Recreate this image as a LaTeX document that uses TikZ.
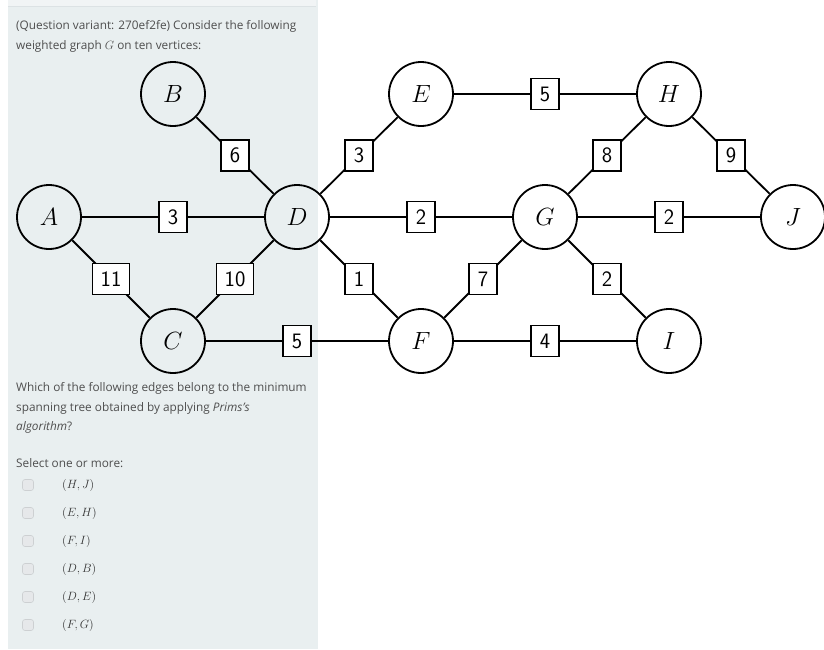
\documentclass[tikz,border=0pt]{standalone}
\usepackage{fontspec}
\setmainfont{Open Sans}
\begin{document}
\begin{tikzpicture}[x=1pt,y=-1pt,
  vtx/.style={circle,draw,line width=1.8pt,minimum size=64pt,inner sep=0pt,font=\fontsize{23}{23}\selectfont},
  wt/.style={rectangle,draw,fill=white,line width=1.5pt,minimum height=31pt,minimum width=28pt,inner xsep=8pt,inner ysep=0pt,font=\fontsize{22}{22}\selectfont\sffamily},
  edge/.style={line width=1.8pt},
  txt/.style={anchor=base west,inner sep=0pt,text=textgrey,font=\fontsize{11.8}{14}\selectfont},
  cbox/.style={rectangle,rounded corners=2.5pt,draw=boxedge,fill=boxfill,line width=0.6pt,minimum size=11pt,inner sep=0pt},
  opt/.style={anchor=west,inner sep=0pt,text=black!80,font=\fontsize{12}{12}\selectfont}]
\definecolor{panel}{RGB}{233,239,240}
\definecolor{topstrip}{RGB}{241,244,245}
\definecolor{stripline}{RGB}{220,226,228}
\definecolor{textgrey}{RGB}{78,78,78}
\definecolor{boxedge}{RGB}{205,208,210}
\definecolor{boxfill}{RGB}{230,232,234}
\useasboundingbox (0,0) rectangle (824,649);
\fill[white] (0,0) rectangle (824,649);
\fill[panel] (8,0) rectangle (318,649);
\fill[topstrip] (8,0) rectangle (316,6);
\draw[stripline,line width=0.8pt] (8,6) -- (316,6);
% question text
\node[txt] (q1) at (16,29) {(Question variant: 270ef2fe) Consider the following};
\node[txt] (q2) at (16,49) {weighted graph $G$ on ten vertices:};
% graph
\node[vtx] (A) at (49,217) {$A$};
\node[vtx] (B) at (173,94) {$B$};
\node[vtx] (C) at (173,341) {$C$};
\node[vtx] (D) at (297,217) {$D$};
\node[vtx] (E) at (421,94) {$E$};
\node[vtx] (F) at (421,341) {$F$};
\node[vtx] (G) at (545,217) {$G$};
\node[vtx] (H) at (669,94) {$H$};
\node[vtx] (I) at (669,341) {$I$};
\node[vtx] (J) at (793,217) {$J$};
\foreach \u/\v/\w in {A/D/3,A/C/11,B/D/6,C/D/10,C/F/5,D/E/3,D/G/2,D/F/1,E/H/5,F/G/7,F/I/4,G/H/8,G/J/2,G/I/2,H/J/9}{
  \draw[edge] (\u) -- node[wt] {\w} (\v);
}
% second text
\node[txt] (q3) at (16,391) {Which of the following edges belong to the minimum};
\node[txt] (q4) at (16,411) {spanning tree obtained by applying \textit{Prims's}};
\node[txt] (q5) at (16,430) {\textit{algorithm}?};
\node[txt] (q6) at (16,467) {Select one or more:};
\foreach \i/\lab in {0/{(H,J)},1/{(E,H)},2/{(F,I)},3/{(D,B)},4/{(D,E)},5/{(F,G)}}{
  \node[cbox] (cb\i) at (28,485+28*\i) {};
  \node[opt] (ol\i) at (62,485+28*\i) {$\lab$};
}
\end{tikzpicture}
\end{document}
